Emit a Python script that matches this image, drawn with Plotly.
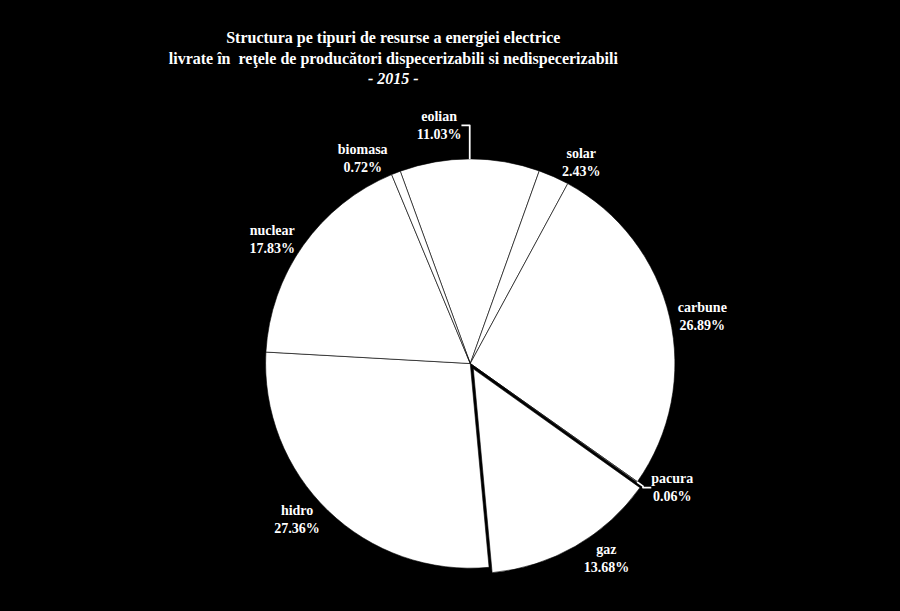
import plotly.graph_objects as go

# structura energiei livrate in retele - 2015
resurse = ["eolian", "solar", "carbune", "pacura", "gaz", "hidro", "nuclear", "biomasa"]
procente = [11.03, 2.43, 26.89, 0.06, 13.68, 27.36, 17.83, 0.72]
explodare = [0, 0, 0, 0, 0.03, 0, 0, 0]

titlu = ("<b>Structura pe tipuri de resurse a energiei electrice<br>"
         "livrate în  reţele de producători dispecerizabili si nedispecerizabili<br>"
         "<i>- 2015 -</i></b>")

fig = go.Figure()
fig.add_pie(
    labels=resurse,
    values=procente,
    sort=False,
    direction="clockwise",
    rotation=-20,
    pull=explodare,
    marker=dict(colors=["white"] * len(resurse), line=dict(color="black", width=0.6)),
    textposition="outside",
    texttemplate="<b>%{label}<br>%{value:.2f}%</b>",
    textfont=dict(family="Liberation Serif", size=14, color="white"),
    hoverinfo="label+percent",
    showlegend=False,
    domain=dict(x=[0.28, 0.765], y=[0.06, 0.75]),
)

fig.update_layout(
    width=900,
    height=611,
    paper_bgcolor="black",
    plot_bgcolor="black",
    margin=dict(l=0, r=0, t=0, b=0),
    title=dict(
        text=titlu,
        x=0.437,
        xanchor="center",
        y=0.93,
        yanchor="top",
        font=dict(family="Liberation Serif", size=16, color="white"),
    ),
)

# body fara margine, ca graficul sa umple fereastra
fig.write_html("out.html", config={"displayModeBar": False},
               post_script="document.body.style.margin='0';")
